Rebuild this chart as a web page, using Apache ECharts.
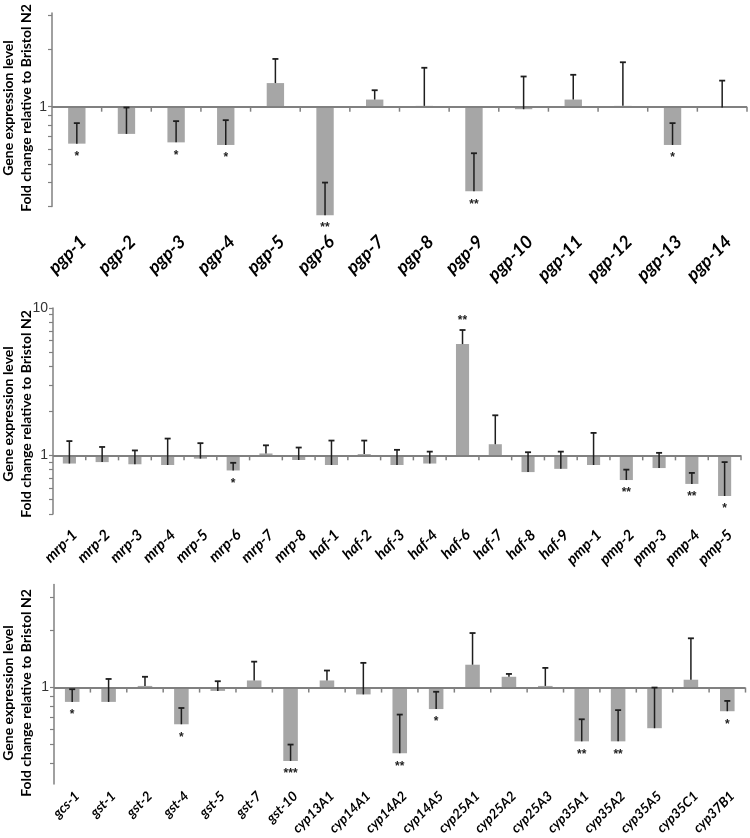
<!DOCTYPE html>
<html><head><meta charset="utf-8">
<script src="https://cdn.jsdelivr.net/npm/echarts@6/dist/echarts.min.js"></script>
<style>html,body{margin:0;padding:0;background:#fff}#c{width:750px;height:838px}</style>
</head><body><div id="c"></div>
<script>
// ---- Panel 1: pgp genes ----
const cat1 = ['pgp-1','pgp-2','pgp-3','pgp-4','pgp-5','pgp-6','pgp-7','pgp-8','pgp-9','pgp-10','pgp-11','pgp-12','pgp-13','pgp-14'];
const val1 = [0.64, 0.72, 0.65, 0.63, 1.33, 0.27, 1.09, 1.01, 0.36, 0.97, 1.09, 1.01, 0.63, 0.99];
const err1 = [0.82, 0.99, 0.84, 0.85, 1.78, 0.40, 1.22, 1.60, 0.57, 1.44, 1.47, 1.71, 0.82, 1.37];
const sig1 = ['*','','*','*','','**','','','**','','','','*',''];

// ---- Panel 2: mrp / haf / pmp genes ----
const cat2 = ['mrp-1','mrp-2','mrp-3','mrp-4','mrp-5','mrp-6','mrp-7','mrp-8','haf-1','haf-2','haf-3','haf-4','haf-6','haf-7','haf-8','haf-9','pmp-1','pmp-2','pmp-3','pmp-4','pmp-5'];
const val2 = [0.88, 0.90, 0.87, 0.86, 0.95, 0.79, 1.03, 0.93, 0.86, 1.02, 0.86, 0.88, 5.69, 1.19, 0.77, 0.81, 0.86, 0.68, 0.82, 0.64, 0.53];
const err2 = [1.25, 1.14, 1.08, 1.30, 1.21, 0.89, 1.17, 1.13, 1.26, 1.26, 1.09, 1.06, 7.09, 1.87, 1.05, 1.06, 1.42, 0.80, 1.04, 0.76, 0.90];
const sig2 = ['','','','','','*','','','','','','','**','','','','','**','','**','*'];

// ---- Panel 3: gcs / gst / cyp genes ----
const cat3 = ['gcs-1','gst-1','gst-2','gst-4','gst-5','gst-7','gst-10','cyp13A1','cyp14A1','cyp14A2','cyp14A5','cyp25A1','cyp25A2','cyp25A3','cyp35A1','cyp35A2','cyp35A5','cyp35C1','cyp37B1'];
const val3 = [0.84, 0.84, 1.02, 0.64, 0.96, 1.09, 0.41, 1.09, 0.92, 0.45, 0.77, 1.32, 1.14, 1.02, 0.52, 0.52, 0.61, 1.10, 0.75];
const err3 = [0.98, 1.11, 1.14, 0.78, 1.08, 1.37, 0.50, 1.23, 1.35, 0.72, 0.95, 1.94, 1.18, 1.27, 0.68, 0.76, 1.00, 1.82, 0.85];
const sig3 = ['*','','','*','','','***','','','**','*','','','','**','**','','','*'];

// ---- y-axis ticks / labels ----
const ticks1 = [0.3,0.4,0.5,0.6,0.7,0.8,0.9,1,2,3];
const labels1 = [1];
const ticks2 = [0.4,0.5,0.6,0.7,0.8,0.9,1,2,3,4,5,6,7,8,9,10];
const labels2 = [1,10];
const ticks3 = [0.4,0.5,0.6,0.7,0.8,0.9,1,2,3];
const labels3 = [1];
const baseValue = 1;

const yName = 'Gene expression level\nFold change relative to Bristol N2';
const AXIS = '#808080';
const BAR = '#a6a6a6';
const ERR = '#1e1e1e';

const panels = [
  {cat:cat1, val:val1, err:err1, sig:sig1, ticks:ticks1, labels:labels1, min:0.3, max:3.1,
   grid:{left:52, right:3, top:13, height:193.4}, labelSize:18, labelMargin:26, barWidth:'35%', titleY:108},
  {cat:cat2, val:val2, err:err2, sig:sig2, ticks:ticks2, labels:labels2, min:0.4, max:10,
   grid:{left:53, right:9, top:308, height:206}, labelSize:15, labelMargin:13, barWidth:'40%', titleY:414},
  {cat:cat3, val:val3, err:err3, sig:sig3, ticks:ticks3, labels:labels3, min:0.31, max:3.5,
   grid:{left:54, right:4.5, top:584.5, height:199.4}, labelSize:13.5, labelMargin:5, barWidth:'40%', titleY:693}
];

const grid = [], xAxis = [], yAxis = [], series = [], graphic = [];
panels.forEach((p, g) => {
  grid.push(Object.assign({containLabel:false, outerBoundsMode:'none'}, p.grid));
  xAxis.push({
    type:'category', gridIndex:g, data:p.cat, position:'bottom', boundaryGap:true,
    axisLine:{show:false, onZero:false}, axisTick:{show:false}, splitLine:{show:false},
    axisLabel:{show:true, interval:0, rotate:45, margin:p.labelMargin, color:'#000',
      verticalAlign:'top',
      fontFamily:'Lato', fontWeight:'bold', fontStyle:'italic', fontSize:p.labelSize}
  });
  yAxis.push({
    type:'log', logBase:10, gridIndex:g, min:p.min, max:p.max,
    axisLine:{show:true, lineStyle:{color:AXIS, width:1.5}},
    axisTick:{show:true, customValues:p.ticks, length:4, lineStyle:{color:AXIS, width:1.2}},
    axisLabel:{show:true, customValues:p.labels, margin:5, color:'#333',
      fontFamily:'Liberation Sans', fontSize:14},
    splitLine:{show:false}
  });
  // rotated two-line axis title for this panel
  graphic.push({
    type:'text', x:17, y:p.titleY, rotation:Math.PI/2, silent:true,
    style:{text:yName, align:'center', verticalAlign:'middle', fill:'#000',
      font:'bold 14px Lato', lineHeight:18}
  });
  series.push({
    type:'bar', xAxisIndex:g, yAxisIndex:g, data:p.val, barWidth:p.barWidth,
    itemStyle:{color:BAR}, clip:false, silent:true, z:2,
    markLine:{silent:true, symbol:'none', animation:false, z:4,
      label:{show:false}, lineStyle:{color:AXIS, width:2, type:'solid'},
      data:[{yAxis:baseValue}]}
  });
  const sigs = p.sig;
  series.push({
    type:'custom', xAxisIndex:g, yAxisIndex:g, clip:false, silent:true, z:5,
    data:p.cat.map((c, i) => [i, p.val[i], p.err[i]]),
    encode:{x:0, y:[1,2]},
    renderItem:function(params, api){
      const i = api.value(0), v = api.value(1), e = api.value(2);
      const a = api.coord([i, v]), b = api.coord([i, e]);
      const base = api.coord([i, baseValue]);
      const band = api.size([1, 1])[0];
      const cap = 3;
      const children = [
        // category separator tick on the baseline
        {type:'line', shape:{x1:base[0]+band/2, y1:base[1], x2:base[0]+band/2, y2:base[1]+5},
          style:{stroke:AXIS, lineWidth:1.5}},
        {type:'line', shape:{x1:a[0], y1:a[1], x2:b[0], y2:b[1]}, style:{stroke:ERR, lineWidth:1.5}},
        {type:'line', shape:{x1:b[0]-cap, y1:b[1], x2:b[0]+cap, y2:b[1]}, style:{stroke:ERR, lineWidth:1.8}}
      ];
      const s = sigs[i];
      if (s) {
        const up = v >= 1;
        children.push({type:'text', x:a[0], y: up ? Math.min(a[1], b[1]) - 3 : Math.max(a[1], b[1]) + 7,
          style:{text:s, align:'center', verticalAlign: up ? 'bottom' : 'top', fill:'#222',
            font:'bold 12px "Liberation Sans"'}});
      }
      return {type:'group', children:children};
    }
  });
});

const chart = echarts.init(document.getElementById('c'), null, {renderer:'canvas'});
chart.setOption({animation:false, backgroundColor:'#fff', grid, xAxis, yAxis, series, graphic});
</script></body></html>
